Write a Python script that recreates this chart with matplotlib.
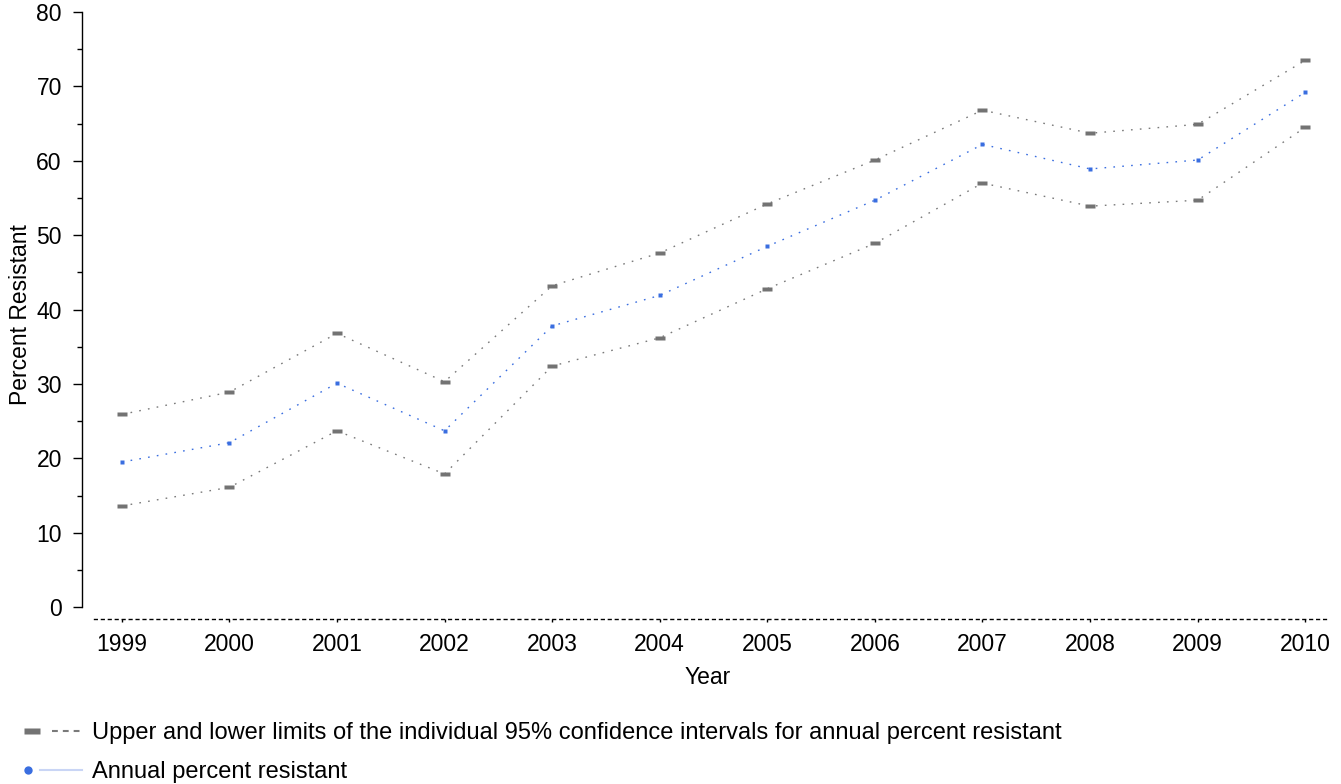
import matplotlib
matplotlib.use("Agg")
import matplotlib.pyplot as plt
from matplotlib.lines import Line2D
from matplotlib.legend_handler import HandlerBase
from matplotlib.ticker import MultipleLocator

plt.rcParams['font.family'] = ['Liberation Sans', 'DejaVu Sans']

years = [1999, 2000, 2001, 2002, 2003, 2004, 2005, 2006, 2007, 2008, 2009, 2010]
annual = [19.5, 22.1, 30.1, 23.7, 37.8, 41.9, 48.5, 54.7, 62.2, 58.9, 60.1, 69.2]
upper = [25.9, 28.9, 36.8, 30.3, 43.2, 47.6, 54.2, 60.1, 66.8, 63.7, 64.9, 73.5]
lower = [13.6, 16.1, 23.7, 17.9, 32.4, 36.2, 42.8, 48.9, 57.0, 53.9, 54.7, 64.5]

grey = '#7a7a7a'
blue = '#3a6ee0'
rect = [(-1, -0.4), (1, -0.4), (1, 0.4), (-1, 0.4), (-1, -0.4)]


class MarkThenLine(HandlerBase):
    # marker on the left, short line segment to its right
    def __init__(self, mark_at, line_from, line_to):
        super().__init__()
        self.mark_at, self.line_from, self.line_to = mark_at, line_from, line_to

    def create_artists(self, legend, orig_handle, xdescent, ydescent,
                       width, height, fontsize, trans):
        mk, ln = orig_handle
        y = height / 2 - ydescent
        m = Line2D([width * self.mark_at - xdescent], [y])
        m.update_from(mk)
        m.set_transform(trans)
        l = Line2D([width * self.line_from - xdescent, width * self.line_to - xdescent], [y, y])
        l.update_from(ln)
        l.set_transform(trans)
        return [l, m]


fig = plt.figure(figsize=(13.41, 7.84), dpi=100)
ax = fig.add_axes([82 / 1341, 1 - 619 / 784, (1330 - 82) / 1341, (619 - 12) / 784])

for vals in (upper, lower):
    ax.plot(years, vals, color=grey, lw=1.0, ls=(0, (1.2, 5.2)),
            marker=rect, ms=7.5, mfc='#737373', mec='none', zorder=2)
ax.plot(years, annual, color=blue, lw=1.0, ls=(0, (1.2, 5.2)),
        marker='s', ms=3.0, mfc=blue, mec='none', zorder=3)

ax.set_xlim(1998.63, 2010.23)
ax.set_ylim(-1.6, 80)
ax.set_xticks(years)
ax.yaxis.set_major_locator(MultipleLocator(10))
ax.yaxis.set_minor_locator(MultipleLocator(5))

for s in ('top', 'right'):
    ax.spines[s].set_visible(False)
ax.spines['left'].set_bounds(0, 80)
ax.spines['left'].set_linewidth(1.0)
ax.spines['bottom'].set_bounds(1998.74, 2010.23)
ax.spines['bottom'].set_linestyle((0, (2, 3)))
ax.spines['bottom'].set_linewidth(1.0)

ax.tick_params(axis='y', which='major', length=6.5, width=1.0, pad=8, labelsize=16.5)
ax.tick_params(axis='y', which='minor', length=3.4, width=1.0)
ax.tick_params(axis='x', which='major', length=2, width=1.0, pad=8, labelsize=16.5)

fig.text(21 / 1341, 1 - 315 / 784, 'Percent Resistant', rotation=90,
         ha='center', va='center', fontsize=16.5)
fig.text(708 / 1341, 1 - 677 / 784, 'Year', ha='center', va='center', fontsize=16.5)

h_ci = (Line2D([], [], ls='none', marker=rect, ms=12, mfc='#737373', mec='none'),
        Line2D([], [], color=grey, lw=1.5, ls=(0, (2.8, 2.4))))
h_an = (Line2D([], [], ls='none', marker='o', ms=6, mfc=blue, mec='none'),
        Line2D([], [], color='#c9d5f5', lw=1.5))
fig.legend([h_ci, h_an],
           ['Upper and lower limits of the individual 95% confidence intervals for annual percent resistant',
            'Annual percent resistant'],
           handler_map={h_ci: MarkThenLine(0.14, 0.48, 0.97),
                        h_an: MarkThenLine(0.07, 0.28, 1.0)},
           loc='upper left', bbox_to_anchor=(24 / 1341, 1 - 722 / 784),
           frameon=False, fontsize=17, handlelength=2.46, handletextpad=0.42,
           labelspacing=0.73, borderpad=0, borderaxespad=0)

fig.savefig('out.png', dpi=100)
